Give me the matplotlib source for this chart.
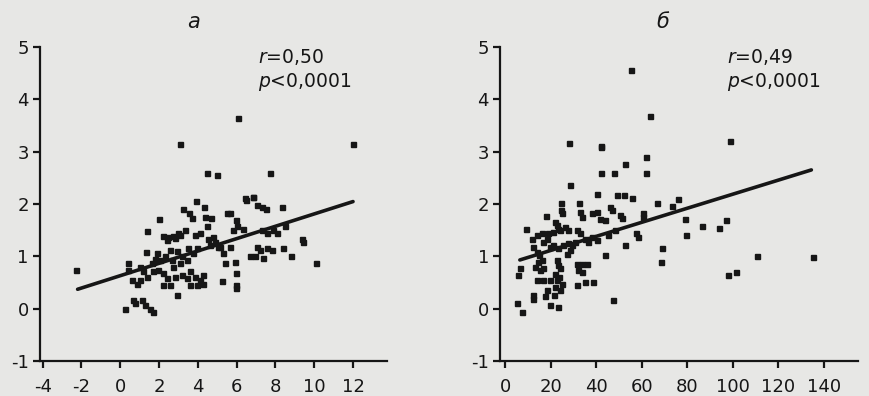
import numpy as np
import matplotlib
matplotlib.use('Agg')
import matplotlib.pyplot as plt

# panel a: values
a_x = [-2.3, 3.1, 6.05, 12.0, 4.45, 5.0, 7.7, 3.9, 2.0, 1.36, 1.33,
       6.5, 6.86, 7.03, 7.29, 7.5, 8.32,
       3.25, 3.54, 3.68, 4.32, 4.35, 4.7, 4.45,
       5.48, 5.66, 5.97, 6.03, 6.34,
       3.34, 3.0, 2.74, 2.22, 2.4, 4.1,
       7.29, 7.55, 7.89, 8.5, 9.35, 9.44,
       7.03, 7.2, 7.55, 6.95, 7.37, 6.69, 8.4, 8.8, 10.1,
       5.14, 5.31, 5.66, 5.4, 5.91, 5.96, 5.96, 5.96, 5.23,
       4.54, 4.62, 3.77, 3.5, 3.94, 3.16, 3.42,
       2.56, 2.31, 2.05, 1.88, 1.62, 1.02, 0.42, 0.42,
       0.59, 0.85, 1.36, 1.19, 1.7, 1.96, 2.22,
       2.39, 2.22, 2.56, 2.82, 3.16, 3.42,
       3.6, 3.85, 4.1, 4.28, 4.28, 3.6, 3.94, 2.9,
       0.24, 0.76, 1.1, 1.27, 1.53, 1.7, 0.64,
       2.74, 2.65, 3.08, 3.07, 2.82, 2.46, 3.85, 4.78, 4.88, 5.04,
       6.43, 6.84, 7.82, 8.08, 1.8, 1.0, 2.9, 5.82]
a_y = [0.73, 3.15, 3.65, 3.15, 2.6, 2.55, 2.6, 2.05, 1.71, 1.49, 1.09,
       2.08, 2.13, 1.98, 1.94, 1.9, 1.95,
       1.9, 1.82, 1.73, 1.94, 1.76, 1.73, 1.57,
       1.82, 1.82, 1.69, 1.57, 1.53,
       1.5, 1.44, 1.38, 1.38, 1.31, 1.44,
       1.5, 1.44, 1.5, 1.57, 1.34, 1.28,
       1.18, 1.12, 1.15, 1.0, 0.96, 1.0, 1.15, 1.0, 0.87,
       1.18, 1.06, 1.18, 0.87, 0.9, 0.69, 0.45, 0.39, 0.52,
       1.34, 1.22, 1.06, 1.15, 1.15, 1.0, 0.93,
       1.12, 1.0, 0.93, 1.06, 0.87, 0.8, 0.87, 0.74,
       0.55, 0.48, 0.61, 0.71, 0.71, 0.74, 0.68,
       0.58, 0.45, 0.45, 0.61, 0.64, 0.58,
       0.71, 0.61, 0.55, 0.48, 0.64, 0.45, 0.45, 0.26,
       0.0, 0.1, 0.17, 0.07, 0.0, -0.06, 0.17,
       0.8, 0.93, 0.87, 1.4, 1.35, 1.37, 1.4, 1.37, 1.27, 1.18,
       2.11, 2.13, 1.12, 1.44, 0.95, 0.55, 1.1, 1.5]

# panel b
b_x = [55.1, 63.8, 98.6, 28.2, 42.0, 42.0, 62.1, 52.6, 42.0, 47.8, 61.7,
       28.5, 40.2, 49.2, 52.3, 55.8, 24.6, 32.4, 66.9, 73.4,
       24.4, 25.1, 18.0, 9.2, 32.9, 33.6, 38.0, 40.2, 41.6, 43.8,
       46.0, 46.8, 50.4, 51.2, 60.4, 60.4,
       21.9, 22.7, 23.4, 26.3, 27.8, 31.4, 32.9, 35.1, 36.5, 38.0, 40.2,
       45.3, 48.2, 52.6, 57.7, 58.5, 69.1, 68.7, 43.8, 47.5,
       11.7, 13.9, 16.1, 19.0, 21.2, 24.1,
       12.4, 13.9, 15.1, 19.7, 21.2, 23.4, 25.6, 27.8, 16.8, 18.3,
       27.0, 28.5, 30.7, 29.2, 31.4, 33.6, 35.8, 32.2, 33.6,
       31.4, 35.1, 38.7,
       22.7, 23.4, 24.1, 21.9, 23.8, 22.9, 24.8, 21.9, 24.1, 21.5,
       13.2, 15.3, 16.8, 14.6, 16.1, 6.6, 5.8,
       13.9, 16.8, 19.7, 12.4, 12.4, 17.5, 19.7, 23.4, 5.1, 7.3, 18.3,
       76.0, 78.9, 86.7, 94.0, 97.2, 79.4, 110.8, 135.2, 97.9, 101.3]
b_y = [4.56, 3.68, 3.21, 3.16, 3.1, 3.08, 2.89, 2.76, 2.6, 2.6, 2.6,
       2.36, 2.19, 2.17, 2.17, 2.12, 2.02, 2.02, 2.02, 1.96,
       1.88, 1.82, 1.77, 1.53, 1.85, 1.76, 1.83, 1.85, 1.72, 1.69,
       1.95, 1.88, 1.79, 1.74, 1.82, 1.76,
       1.66, 1.6, 1.53, 1.56, 1.51, 1.5, 1.44, 1.34, 1.28, 1.37, 1.32,
       1.41, 1.5, 1.21, 1.44, 1.37, 1.15, 0.9, 1.02, 0.16,
       1.34, 1.41, 1.44, 1.45, 1.47, 1.5,
       1.18, 1.09, 1.02, 1.18, 1.21, 1.15, 1.21, 1.25, 1.28, 1.34,
       1.05, 1.12, 1.28, 1.21, 0.86, 0.86, 0.86, 0.74, 0.7,
       0.45, 0.51, 0.51,
       0.93, 0.83, 0.77, 0.67, 0.61, 0.55, 0.48, 0.42, 0.35, 0.26,
       0.8, 0.74, 0.77, 0.89, 0.93, 0.77, 0.64,
       0.55, 0.55, 0.55, 0.26, 0.19, 0.24, 0.07, 0.04, 0.1, -0.06, 0.35,
       2.09, 1.71, 1.58, 1.55, 1.7, 1.4, 1.0, 0.98, 0.64, 0.7]

# regression lines (slope, intercept, x start, x end)
a_fit = (0.118, 0.63, -2.2, 12.0)
b_fit = (0.01344, 0.843, 6.5, 134.5)

a_xticks = [-4, -2, 0, 2, 4, 6, 8, 10, 12]
b_xticks = [0, 20, 40, 60, 80, 100, 120, 140]
yticks = [-1, 0, 1, 2, 3, 4, 5]

bg = '#e7e7e5'
ink = '#161616'
plt.rcParams['font.family'] = ['DejaVu Sans']
plt.rcParams['mathtext.fontset'] = 'dejavusans'

fig = plt.figure(figsize=(8.69, 3.96), dpi=100, facecolor=bg)
ax_a = fig.add_axes([0.046, 0.0884, 0.3993, 0.793])
ax_b = fig.add_axes([0.5754, 0.0884, 0.412, 0.793])

panels = [
    (ax_a, a_x, a_y, a_fit, a_xticks, (-4.14, 13.75), 'а', 3.8, 7.1, '0,50'),
    (ax_b, b_x, b_y, b_fit, b_xticks, (-2.2, 155.0), 'б', 69.3, 97.3, '0,49'),
]

for ax, xs, ys, fit, xt, xlim, letter, lx, tx, rval in panels:
    ax.set_facecolor(bg)
    ax.plot(xs, ys, 's', ms=3.6, color=ink, mec=ink)
    k, b0, x0, x1 = fit
    lx_ = np.array([x0, x1])
    ax.plot(lx_, k * lx_ + b0, '-', color=ink, lw=2.6, solid_capstyle='round')
    ax.set_xlim(*xlim)
    ax.set_ylim(-1, 5)
    for s in ['top', 'right']:
        ax.spines[s].set_visible(False)
    for s in ['left', 'bottom']:
        ax.spines[s].set_linewidth(1.6)
        ax.spines[s].set_color(ink)
    ax.set_xticks(xt)
    ax.set_xticklabels([str(v) for v in xt])
    ax.set_yticks(yticks)
    ax.set_yticklabels([str(v) for v in yticks])
    ax.tick_params(direction='out', length=5, width=1.6, color=ink,
                   labelsize=13, labelcolor=ink)
    ax.tick_params(axis='x', pad=7)
    ax.tick_params(axis='y', pad=3)
    ax.text(lx, 5.48, letter, fontsize=15, style='italic', ha='center',
            va='center', color=ink, clip_on=False)
    ax.text(tx, 4.81, r'$r$=' + rval, fontsize=13.5, ha='left', va='center', color=ink)
    ax.text(tx, 4.33, r'$p$<0,0001', fontsize=13.5, ha='left', va='center', color=ink)

fig.savefig('out.png', dpi=100, facecolor=bg)
